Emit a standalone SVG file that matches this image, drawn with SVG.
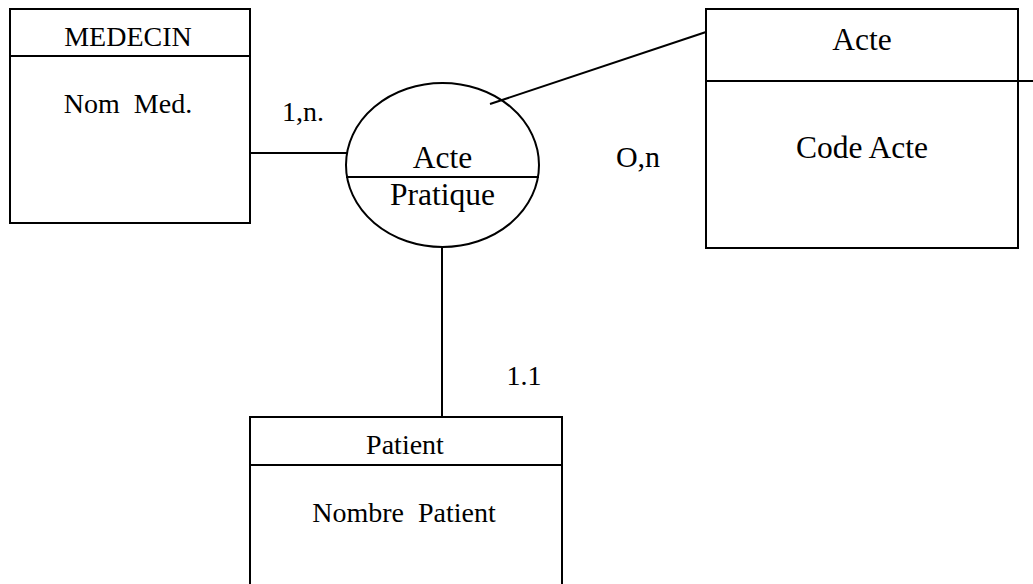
<svg xmlns="http://www.w3.org/2000/svg" width="1033" height="584" viewBox="0 0 1033 584">
<style>
.b{fill:#fff;stroke:#000;stroke-width:2}
.l{stroke:#000;stroke-width:2;fill:none}
text{font-family:"Liberation Serif","Times New Roman",serif;fill:#000;text-anchor:middle}
.s{font-size:28px}
.m{font-size:31.5px}
</style>
<rect width="1033" height="584" fill="#fff"/>
<g id="medecin">
<rect class="b" x="10" y="9" width="240" height="214"/>
<line class="l" x1="10" y1="56" x2="250" y2="56"/>
<text class="s" x="128" y="45.5">MEDECIN</text>
<text class="s" x="128" y="113" xml:space="preserve">Nom  Med.</text>
</g>
<g id="acte">
<rect class="b" x="706" y="9" width="312" height="239"/>
<line class="l" x1="706" y1="81" x2="1033" y2="81"/>
<text class="m" x="862" y="50">Acte</text>
<text class="m" x="862" y="158">Code Acte</text>
</g>
<g id="acte-pratique">
<ellipse class="b" cx="442.5" cy="165" rx="96.5" ry="82"/>
<line class="l" x1="346" y1="177" x2="539" y2="177"/>
<text class="m" x="442.5" y="168">Acte</text>
<text class="m" x="442.5" y="205">Pratique</text>
</g>
<g id="patient">
<rect class="b" x="250" y="417" width="312" height="180"/>
<line class="l" x1="250" y1="465" x2="562" y2="465"/>
<text class="s" x="405" y="454">Patient</text>
<text class="s" x="404" y="522" xml:space="preserve">Nombre  Patient</text>
</g>
<g id="connectors">
<line class="l" x1="250" y1="153" x2="347" y2="153"/>
<line class="l" x1="490" y1="104" x2="706" y2="32"/>
<line class="l" x1="442" y1="247" x2="442" y2="417"/>
</g>
<g id="labels">
<text class="s" x="303" y="121">1,n.</text>
<text class="s" x="638" y="167" style="font-size:30px">O,n</text>
<text class="s" x="524" y="385">1.1</text>
</g>
</svg>
